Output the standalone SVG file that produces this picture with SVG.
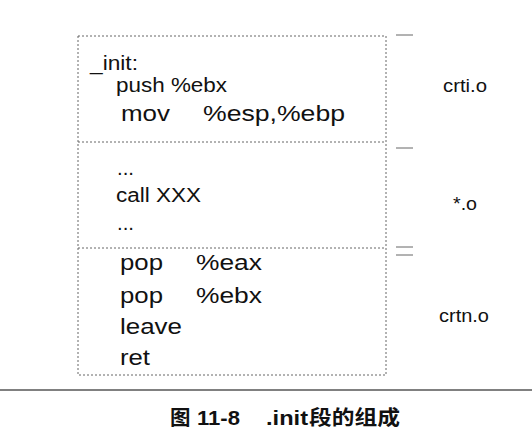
<svg xmlns="http://www.w3.org/2000/svg" width="532" height="442" viewBox="0 0 532 442">
<style>
.dash{fill:none;stroke:#666;stroke-width:1;stroke-dasharray:2 2}
.tick{stroke:#666;stroke-width:1}
.code{font-family:"Liberation Sans",Arial,sans-serif;fill:#111}
.s{font-size:19.5px}
.l{font-size:22.5px}
.lab{font-family:"Liberation Sans",Arial,sans-serif;font-size:17.5px;fill:#111}
.cap{font-family:"Liberation Sans","Noto Sans CJK SC",sans-serif;font-size:20.5px;font-weight:bold;fill:#111}
</style>
<rect width="532" height="442" fill="#fff"/>
<g id="frame">
<rect class="dash" x="78" y="36" width="308" height="339"/>
</g>
<g id="connectors">
<line class="dash" x1="78" y1="142" x2="386" y2="142"/>
<line class="dash" x1="78" y1="248" x2="386" y2="248"/>
<line class="tick" x1="396" y1="35" x2="413" y2="35"/>
<line class="tick" x1="396" y1="148" x2="413" y2="148"/>
<line class="tick" x1="396" y1="247" x2="413" y2="247"/>
<line class="tick" x1="396" y1="255" x2="413" y2="255"/>
</g>
<g id="crti">
<text class="code s" x="90" y="70" textLength="48" lengthAdjust="spacingAndGlyphs">_init:</text>
<text class="code s" x="116" y="92" textLength="111" lengthAdjust="spacingAndGlyphs">push %ebx</text>
<text class="code l" x="121" y="121" textLength="49" lengthAdjust="spacingAndGlyphs">mov</text>
<text class="code l" x="203" y="121" textLength="142" lengthAdjust="spacingAndGlyphs">%esp,%ebp</text>
<text class="lab" x="443" y="92" textLength="44" lengthAdjust="spacingAndGlyphs">crti.o</text>
</g>
<g id="objs">
<text class="code s" x="117" y="175" textLength="17" lengthAdjust="spacingAndGlyphs">...</text>
<text class="code s" x="116" y="202" textLength="85" lengthAdjust="spacingAndGlyphs">call XXX</text>
<text class="code s" x="117" y="230" textLength="17" lengthAdjust="spacingAndGlyphs">...</text>
<text class="lab" x="453" y="210" textLength="24" lengthAdjust="spacingAndGlyphs">*.o</text>
</g>
<g id="crtn">
<text class="code l" x="120" y="270" textLength="43" lengthAdjust="spacingAndGlyphs">pop</text>
<text class="code l" x="196" y="270" textLength="66" lengthAdjust="spacingAndGlyphs">%eax</text>
<text class="code l" x="120" y="303" textLength="43" lengthAdjust="spacingAndGlyphs">pop</text>
<text class="code l" x="196" y="303" textLength="66" lengthAdjust="spacingAndGlyphs">%ebx</text>
<text class="code l" x="120" y="334" textLength="62" lengthAdjust="spacingAndGlyphs">leave</text>
<text class="code l" x="120" y="365" textLength="30" lengthAdjust="spacingAndGlyphs">ret</text>
<text class="lab" x="439" y="322" textLength="50" lengthAdjust="spacingAndGlyphs">crtn.o</text>
</g>
<line x1="0" y1="390" x2="532" y2="390" stroke="#808080" stroke-width="2"/>
<g id="caption">
<text class="cap" x="170" y="425">图</text>
<text class="cap" x="197" y="425" textLength="43" lengthAdjust="spacingAndGlyphs">11-8</text>
<text class="cap" x="266" y="425" textLength="42" lengthAdjust="spacingAndGlyphs">.init</text>
<text class="cap" x="309" y="425" textLength="91" lengthAdjust="spacingAndGlyphs">段的组成</text>
</g>
</svg>
